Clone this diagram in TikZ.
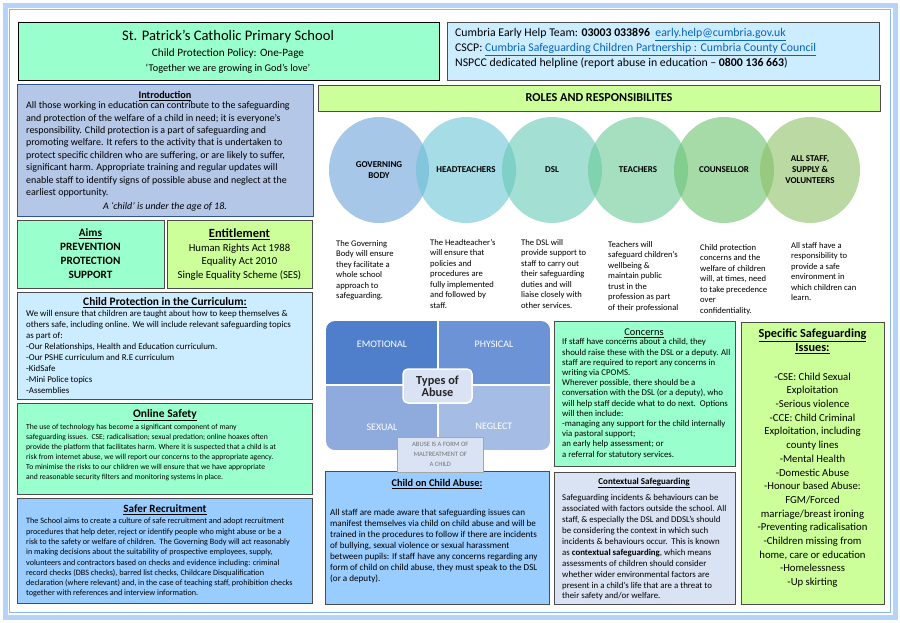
\documentclass[tikz,border=0pt]{standalone}
\usepackage{fontspec}
\setmainfont{Carlito}
\usepackage{xcolor}
\usetikzlibrary{shapes.geometric, positioning}

\definecolor{mint}{HTML}{99FFCC}
\definecolor{lime}{HTML}{CCFF99}
\definecolor{skyfill}{HTML}{CCECFF}
\definecolor{introfill}{HTML}{B4C7E7}
\definecolor{introline}{HTML}{2F5597}
\definecolor{bluefill}{HTML}{99CCFF}
\definecolor{greyblue}{HTML}{DAE3F3}
\definecolor{framelight}{HTML}{B4D5F7}
\definecolor{framedark}{HTML}{8DB8E8}
\definecolor{linkcol}{HTML}{0563C1}
\definecolor{rolea}{HTML}{6CA3D9}
\definecolor{roleb}{HTML}{6BC5D4}
\definecolor{rolec}{HTML}{66CBB6}
\definecolor{roled}{HTML}{6BCA96}
\definecolor{rolee}{HTML}{6BC36E}
\definecolor{rolef}{HTML}{8EC064}
\definecolor{abusea}{HTML}{4F7FCB}
\definecolor{abuseb}{HTML}{6B93D6}
\definecolor{abusec}{HTML}{8FAADD}
\definecolor{abused}{HTML}{A5BCE5}

\newcommand{\fsz}[2]{\fontsize{#1}{#2}\selectfont}
\newcommand{\weblink}[1]{\textcolor{linkcol}{\underline{#1}}}

\tikzset{
  panel/.style={draw=black!70, line width=1pt, anchor=north west, inner sep=0pt},
  txt/.style={anchor=north west, align=left, inner sep=0pt, text=black},
  head/.style={inner sep=0pt, font=\bfseries},
  role/.style={ellipse, minimum width=100pt, minimum height=106pt, inner sep=0pt,
    fill opacity=0.6, text opacity=1, align=center, font=\bfseries\fsz{9}{11}},
  quad/.style={inner sep=0pt, text=white, font=\fsz{10}{12}},
}

\begin{document}
\begin{tikzpicture}[x=1pt, y=-1pt]
  \useasboundingbox (0,0) rectangle (900,622);
  \fill[white] (0,0) rectangle (900,622);

  % page frame
  \draw[framelight, line width=5pt] (5,5) rectangle (895,617);
  \draw[framedark, line width=0.8pt] (9.5,9.5) rectangle (890.5,612.5);

  % Title
  \node[panel, draw=black, line width=1.2pt, fill=mint, minimum width=421pt, minimum height=58pt] (title) at (18,22) {};
  \node[inner sep=0pt, font=\fsz{14.6}{16}] (school) at (228,37) {St. Patrick’s Catholic Primary School};
  \node[inner sep=0pt, font=\fsz{11.2}{13}] (policy) at (228,54) {Child Protection Policy: One-Page};
  \node[inner sep=0pt, font=\fsz{10.3}{12}] (motto) at (228,69) {‘Together we are growing in God’s love’};

  % Contacts
  \node[panel, fill=skyfill, minimum width=432pt, minimum height=58pt] (contact) at (447,22) {};
  \node[txt, font=\fsz{11.8}{15}] (contacttext) at (455,28) {%
    Cumbria Early Help Team: \textbf{03003 033896}\ \ \weblink{early.help@cumbria.gov.uk}\\
    CSCP: \weblink{Cumbria Safeguarding Children Partnership : Cumbria County Council}\\
    NSPCC dedicated helpline (report abuse in education – \textbf{0800 136 663})};

  % Introduction
  \node[panel, draw=introline, fill=introfill, minimum width=296pt, minimum height=132pt] (intro) at (17,84) {};
  \node[head, font=\bfseries\fsz{10.2}{12}] (introhead) at (165,96) {\underline{Introduction}};
  \node[txt, font=\fsz{9.95}{12.4}] (introtext) at (26,101.5) {%
    All those working in education can contribute to the safeguarding\\
    and protection of the welfare of a child in need; it is everyone’s\\
    responsibility. Child protection is a part of safeguarding and\\
    promoting welfare. It refers to the activity that is undertaken to\\
    protect specific children who are suffering, or are likely to suffer,\\
    significant harm. Appropriate training and regular updates will\\
    enable staff to identify signs of possible abuse and neglect at the\\
    earliest opportunity.};
  \node[inner sep=0pt, font=\itshape\fsz{9.95}{12}] (childage) at (165,207) {A ‘child’ is under the age of 18.};

  % Aims and Entitlement
  \node[panel, fill=mint, minimum width=147pt, minimum height=68pt] (aims) at (17,220) {};
  \node[inner sep=0pt, align=center, font=\bfseries\fsz{11.2}{14}] (aimstext) at (90.5,254) {%
    \underline{Aims}\\PREVENTION\\PROTECTION\\SUPPORT};
  \node[panel, fill=lime, minimum width=145pt, minimum height=68pt] (entitle) at (167,220) {};
  \node[head, font=\bfseries\fsz{12.5}{14}] (entitlehead) at (239.5,234) {\underline{Entitlement}};
  \node[inner sep=0pt, align=center, font=\fsz{10.7}{13.5}] (entitletext) at (239.5,262) {%
    Human Rights Act 1988\\Equality Act 2010\\Single Equality Scheme (SES)};

  % Child Protection in the Curriculum
  \node[panel, fill=skyfill, minimum width=295pt, minimum height=107pt] (curric) at (17,292) {};
  \node[head, font=\bfseries\fsz{11.4}{13}] (currichead) at (165,303) {\underline{Child Protection in the Curriculum:}};
  \node[txt, font=\fsz{8.9}{11}] (currictext) at (26,310.5) {%
    We will ensure that children are taught about how to keep themselves \&\\
    others safe, including online. We will include relevant safeguarding topics\\
    as part of:\\
    -Our Relationships, Health and Education curriculum.\\
    -Our PSHE curriculum and R.E curriculum\\
    -KidSafe\\
    -Mini Police topics\\
    -Assemblies};

  % Online Safety
  \node[panel, fill=mint, minimum width=295pt, minimum height=91pt] (online) at (17,403) {};
  \node[head, font=\bfseries\fsz{11.5}{13}] (onlinehead) at (165,415) {\underline{Online Safety}};
  \node[txt, font=\fsz{7.65}{10}] (onlinetext) at (26,423.5) {%
    The use of technology has become a significant component of many\\
    safeguarding issues.\ \ CSE; radicalisation; sexual predation; online hoaxes often\\
    provide the platform that facilitates harm. Where it is suspected that a child is at\\
    risk from internet abuse, we will report our concerns to the appropriate agency.\\
    To minimise the risks to our children we will ensure that we have appropriate\\
    and reasonable security filters and monitoring systems in place.};

  % Safer Recruitment
  \node[panel, fill=bluefill, minimum width=295pt, minimum height=105pt] (recruit) at (17,498) {};
  \node[head, font=\bfseries\fsz{11.1}{13}] (recruithead) at (165,510) {\underline{Safer Recruitment}};
  \node[txt, font=\fsz{8.15}{10.3}] (recruittext) at (26,518) {%
    The School aims to create a culture of safe recruitment and adopt recruitment\\
    procedures that help deter, reject or identify people who might abuse or be a\\
    risk to the safety or welfare of children.\ \ The Governing Body will act reasonably\\
    in making decisions about the suitability of prospective employees, supply,\\
    volunteers and contractors based on checks and evidence including: criminal\\
    record checks (DBS checks), barred list checks, Childcare Disqualification\\
    declaration (where relevant) and, in the case of teaching staff, prohibition checks\\
    together with references and interview information.};

  % Roles and responsibilities
  \node[panel, fill=lime, minimum width=562pt, minimum height=26pt] (roles) at (318,85) {};
  \node[head, font=\bfseries\fsz{12.2}{14}] (roleshead) at (599,98) {ROLES AND RESPONSIBILITES};
  \node[role, fill=rolea] (gov) at (379,170) {GOVERNING\\BODY};
  \node[role, fill=roleb] (headt) at (466,170) {HEADTEACHERS};
  \node[role, fill=rolec] (dsl) at (552,170) {DSL};
  \node[role, fill=roled] (teach) at (638,170) {TEACHERS};
  \node[role, fill=rolee] (couns) at (724,170) {COUNSELLOR};
  \node[role, fill=rolef] (staff) at (810,170) {ALL STAFF,\\SUPPLY \&\\VOLUNTEERS};

  \node[txt, font=\fsz{8.6}{10.5}] (govtext) at (336,240) {The Governing\\Body will ensure\\they facilitate a\\whole school\\approach to\\safeguarding.};
  \node[txt, font=\fsz{8.6}{10.5}] (headtext) at (430,239) {The Headteacher’s\\will ensure that\\policies and\\procedures are\\fully implemented\\and followed by\\staff.};
  \node[txt, font=\fsz{8.6}{10.5}] (dsltext) at (521,239) {The DSL will\\provide support to\\staff to carry out\\their safeguarding\\duties and will\\liaise closely with\\other services.};
  \node[txt, font=\fsz{8.6}{10.5}] (teachtext) at (608,241) {Teachers will\\safeguard children’s\\wellbeing \&\\maintain public\\trust in the\\profession as part\\of their professional};
  \node[txt, font=\fsz{8.6}{10.5}] (counstext) at (700,244) {Child protection\\concerns and the\\welfare of children\\will, at times, need\\to take precedence\\over\\confidentiality.};
  \node[txt, font=\fsz{8.6}{10.5}] (stafftext) at (791,242) {All staff have a\\responsibility to\\provide a safe\\environment in\\which children can\\learn.};

  % Types of abuse
  \begin{scope}
    \clip[rounded corners=9pt] (326,321) rectangle (550,450);
    \fill[abusea] (326,321) rectangle (437,384);
    \fill[abuseb] (439,321) rectangle (550,384);
    \fill[abusec] (326,386) rectangle (437,450);
    \fill[abused] (439,386) rectangle (550,450);
  \end{scope}
  \node[quad] (emotional) at (382,344) {EMOTIONAL};
  \node[quad] (physical) at (494,344) {PHYSICAL};
  \node[quad] (sexual) at (382,427) {SEXUAL};
  \node[quad] (neglect) at (494,426) {NEGLECT};
  \node[draw=white, line width=1.5pt, fill=greyblue, rounded corners=5pt, minimum width=69pt, minimum height=34pt,
    inner sep=0pt, align=center, text=black!85, font=\bfseries\fsz{12.3}{12}] (types) at (437.5,386) {Types of\\Abuse};

  % Concerns
  \node[panel, fill=mint, minimum width=181pt, minimum height=145pt] (concerns) at (554,321) {};
  \node[inner sep=0pt, font=\fsz{10.4}{12}] (concernshead) at (644,333) {\underline{Concerns}};
  \node[txt, font=\fsz{8.8}{10.2}] (concernstext) at (562,338.5) {%
    If staff have concerns about a child, they\\
    should raise these with the DSL or a deputy. All\\
    staff are required to report any concerns in\\
    writing via CPOMS.\\
    Wherever possible, there should be a\\
    conversation with the DSL (or a deputy), who\\
    will help staff decide what to do next.\ \ Options\\
    will then include:\\
    -managing any support for the child internally\\
    via pastoral support;\\
    an early help assessment; or\\
    a referral for statutory services.};

  % Child on child abuse
  \node[panel, fill=bluefill, minimum width=224pt, minimum height=133pt] (peer) at (325,471) {};
  \node[head, font=\bfseries\fsz{10.3}{12}] (peerhead) at (437,484) {\underline{Child on Child Abuse:}};
  \node[txt, font=\fsz{9.1}{11}] (peertext) at (330,508.5) {%
    All staff are made aware that safeguarding issues can\\
    manifest themselves via child on child abuse and will be\\
    trained in the procedures to follow if there are incidents\\
    of bullying, sexual violence or sexual harassment\\
    between pupils: If staff have any concerns regarding any\\
    form of child on child abuse, they must speak to the DSL\\
    (or a deputy).};
  \node[panel, draw=black!35, line width=0.6pt, fill=greyblue, minimum width=86pt, minimum height=35pt,
    align=center, text=black!55, font=\fsz{6.6}{10}] (maltreat) at (397,437) {ABUSE IS A FORM OF\\MALTREATMENT OF\\A CHILD};

  % Contextual safeguarding
  \node[panel, fill=greyblue, minimum width=181pt, minimum height=132pt] (context) at (554,472) {};
  \node[head, font=\bfseries\fsz{9}{10}] (contexthead) at (644,483) {\underline{Contextual Safeguarding}};
  \node[txt, font=\fsz{8.85}{10.9}] (contexttext) at (562,494.5) {%
    Safeguarding incidents \& behaviours can be\\
    associated with factors outside the school. All\\
    staff, \& especially the DSL and DDSL’s should\\
    be considering the context in which such\\
    incidents \& behaviours occur.\ \ This is known\\
    as \textbf{contextual safeguarding}, which means\\
    assessments of children should consider\\
    whether wider environmental factors are\\
    present in a child’s life that are a threat to\\
    their safety and/or welfare.};

  % Specific safeguarding issues
  \node[panel, fill=lime, minimum width=143pt, minimum height=282pt] (specific) at (741,322) {};
  \node[inner sep=0pt, align=center, font=\bfseries\fsz{12.3}{14}] (specifichead) at (812.5,341) {%
    \underline{Specific Safeguarding}\\\underline{Issues:}};
  \node[inner sep=0pt, anchor=north, align=center, font=\fsz{10.7}{13.7}] (specifictext) at (812.5,372.5) {%
    -CSE: Child Sexual\\Exploitation\\-Serious violence\\-CCE: Child Criminal\\Exploitation, including\\county lines\\
    -Mental Health\\-Domestic Abuse\\-Honour based Abuse:\\FGM/Forced\\marriage/breast ironing\\
    -Preventing radicalisation\\-Children missing from\\home, care or education\\-Homelessness\\-Up skirting};
\end{tikzpicture}
\end{document}
